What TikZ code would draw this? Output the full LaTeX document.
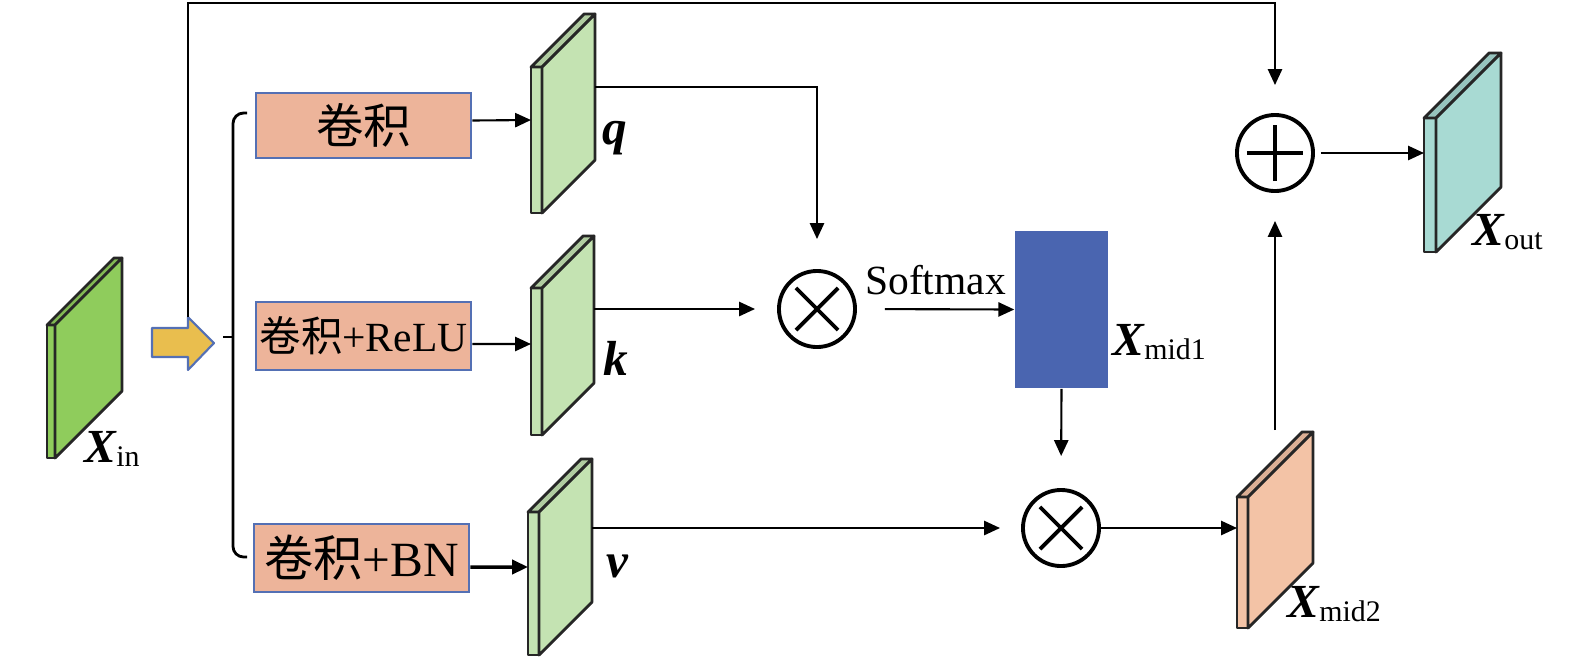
\documentclass[tikz,border=0pt]{standalone}
\usepackage{fontspec}
\setmainfont{Liberation Serif}
\newfontfamily\cjk{Noto Sans CJK SC}
\usetikzlibrary{arrows.meta}

\definecolor{boxfill}{HTML}{EDB49A}
\definecolor{boxline}{HTML}{5470B4}
\definecolor{ingreen}{HTML}{8FCC5C}
\definecolor{ltgreen}{HTML}{C4E3B2}
\definecolor{salmon}{HTML}{F3C3A6}
\definecolor{teal}{HTML}{A8DAD3}
\definecolor{midblue}{HTML}{4A65B0}
\definecolor{arrowyellow}{HTML}{E9BE4E}

\tikzset{
  fmap/.style={draw=black!85, line width=0.8pt, line join=round},
  conv/.style={draw=boxline, fill=boxfill, line width=0.8pt, inner sep=0pt,
    minimum width=2.15cm, minimum height=0.66cm},
  conn/.style={line width=0.6pt, -{Triangle[length=4.5pt,width=4pt]}},
  opcirc/.style={circle, draw, line width=1.1pt, minimum size=0.76cm, inner sep=0pt},
  mul/.style={opcirc, path picture={
      \draw[line width=1.1pt] ([shift={(-0.21cm,0.21cm)}]path picture bounding box.center)
        -- ([shift={(0.21cm,-0.21cm)}]path picture bounding box.center);
      \draw[line width=1.1pt] ([shift={(-0.21cm,-0.21cm)}]path picture bounding box.center)
        -- ([shift={(0.21cm,0.21cm)}]path picture bounding box.center);}},
  add/.style={opcirc, path picture={
      \draw[line width=1.3pt] ([xshift=-0.28cm]path picture bounding box.center)
        -- ([xshift=0.28cm]path picture bounding box.center);
      \draw[line width=1.3pt] ([yshift=-0.28cm]path picture bounding box.center)
        -- ([yshift=0.28cm]path picture bounding box.center);}},
  lbl/.style={font=\fontsize{14}{14}\selectfont\bfseries\itshape}
}

% feature map: x, bottom y, front width, height, depth, colour
\newcommand{\featmap}[6]{%
  \filldraw[fmap, fill=#6] (#1,#2) rectangle ({#1+#3},{#2-#4});
  \filldraw[fmap, fill=#6!90!black] (#1,{#2-#4}) -- ({#1+#5},{#2-#4-#5})
    -- ({#1+#3+#5},{#2-#4-#5}) -- ({#1+#3},{#2-#4}) -- cycle;
  \filldraw[fmap, fill=#6] ({#1+#3},#2) -- ({#1+#3},{#2-#4})
    -- ({#1+#3+#5},{#2-#4-#5}) -- ({#1+#3+#5},{#2-#5}) -- cycle;
}
\newcommand{\xlab}[1]{{\fontsize{13.5}{14}\selectfont\bfseries\itshape X}\raisebox{-0.3ex}{\fontsize{8.5}{9}\selectfont #1}}

\begin{document}
\begin{tikzpicture}[x=0.01cm, y=-0.01cm]
  \useasboundingbox (0,0) rectangle (1575,657);

  % input
  \featmap{47}{458}{8}{133}{67}{ingreen}
  \node[anchor=base west, inner sep=0] (xin) at (84,462) {\xlab{in}};

  % yellow arrow
  \filldraw[fill=arrowyellow, draw=boxline, line width=0.6pt, line join=round]
    (152,328) -- (188,328) -- (188,317) -- (214,343) -- (188,370) -- (188,357) -- (152,357) -- cycle;
  \coordinate (fork) at (188,317);

  % branches
  \draw[line width=0.8pt, rounded corners=3] (247,113) -- (233,113) -- (233,557) -- (247,557);
  \draw[line width=0.8pt] (223,337) -- (233,337);

  % convolutions
  \node[conv, minimum height=0.65cm, font=\fontsize{13.5}{14}\selectfont] (conv1) at (363.5,125.5) {\cjk 卷积};
  \node[conv, minimum height=0.68cm, font=\fontsize{11.8}{12}\selectfont] (conv2) at (363.5,336) {{\cjk 卷积}+ReLU};
  \node[conv, minimum height=0.68cm, font=\fontsize{14}{14}\selectfont] (conv3) at (361.5,558) {{\cjk 卷积}+BN};

  % q, k, v
  \featmap{531}{213}{11}{146}{53}{ltgreen}
  \featmap{531}{435}{11}{147}{52}{ltgreen}
  \featmap{528}{655}{11}{143}{53}{ltgreen}
  \coordinate (q) at (531,120);
  \coordinate (k) at (531,344);
  \coordinate (v) at (528,567);
  \draw[conn] ([yshift=0.05cm]conv1.east) -- (q);
  \draw[conn] ([yshift=-0.08cm]conv2.east) -- (k);
  \draw[conn, line width=1pt] ([yshift=-0.09cm]conv3.east) -- (v);
  \node[lbl] (qlbl) at (615,138) {q};
  \node[lbl] (klbl) at (616,358) {k};
  \node[lbl] (vlbl) at (617,566) {v};

  % attention
  \node[mul] (mul1) at (817,309) {};
  \node[mul] (mul2) at (1061,528) {};
  \node[add] (add) at (1275,153) {};
  \coordinate (qo) at (595,87);
  \coordinate (ko) at (594,309);
  \coordinate (vo) at (592,528);
  \draw[conn, shorten >=0.3cm] (qo) -| (mul1.north);
  \draw[conn, shorten >=0.22cm] (ko) -- (mul1.west);

  \node[fill=midblue, minimum width=0.93cm, minimum height=1.57cm, inner sep=0] (mid1) at (1061.5,309.5) {};
  \node[anchor=base west, inner sep=0] (xmid1) at (1112,355) {\xlab{mid1}};
  \draw[conn, shorten <=0.28cm] (mul1.east) -- (mid1.west)
    node[midway, above, yshift=0.02cm, font=\fontsize{11.8}{12}\selectfont] (smax) {Softmax};
  \draw[conn, shorten >=0.32cm] (mid1.south) -- (mul2.north);
  \draw[conn, shorten >=0.21cm] (vo) -- (mul2.west);

  % X_mid2
  \featmap{1237}{628}{11}{131}{65}{salmon}
  \node[anchor=base west, inner sep=0] (xmid2) at (1287,617) {\xlab{mid2}};
  \coordinate (m2in) at (1237,528);
  \coordinate (m2up) at (1275,430);
  \draw[conn] (mul2.east) -- (m2in);
  \draw[conn, shorten >=0.28cm] (m2up) -- (add.south);

  % residual
  \draw[conn, shorten >=0.28cm] (fork) -- (188,3) -| (add.north);

  % output
  \featmap{1424}{252}{12}{134}{65}{teal}
  \node[anchor=base west, inner sep=0] (xout) at (1472,245) {\xlab{out}};
  \coordinate (outin) at (1424,153);
  \draw[conn, shorten <=0.06cm] (add.east) -- (outin);
\end{tikzpicture}
\end{document}
